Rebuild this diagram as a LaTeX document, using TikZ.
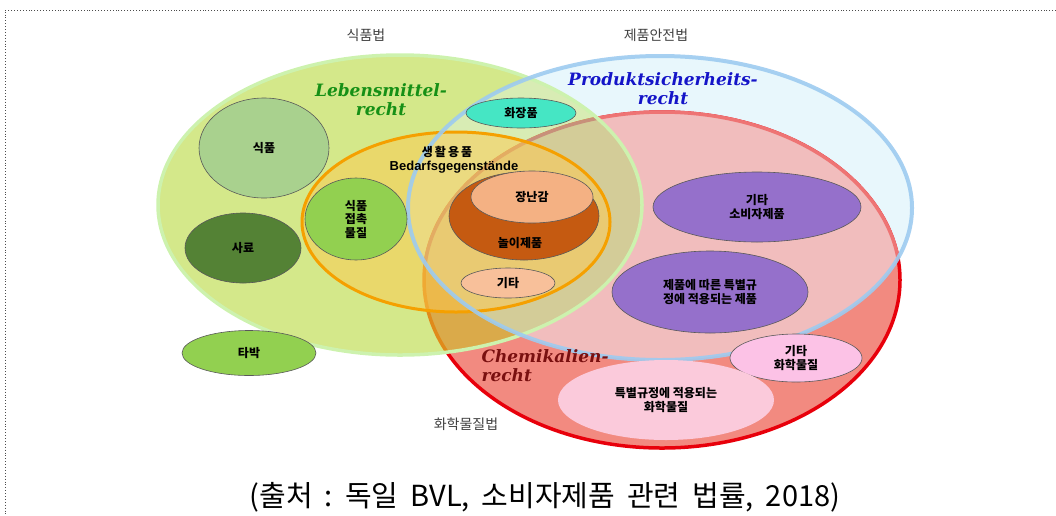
\documentclass[tikz,border=0pt]{standalone}
\usepackage{fontspec}
\usetikzlibrary{shapes.geometric}
\newfontfamily\kr{Noto Sans CJK KR}
\newfontfamily\de{DejaVu Serif}
\newfontfamily\ar{Liberation Sans}
\newcommand\capsp{\hspace{12pt}}
\definecolor{redfill}{HTML}{F28A80}
\definecolor{redline}{HTML}{E8000B}
\definecolor{redlinein}{HTML}{EE7474}
\definecolor{redlinegr}{HTML}{E08A1A}
\definecolor{redlinegb}{HTML}{C8907A}
\definecolor{bluefill}{HTML}{E8F7FC}
\definecolor{blueline}{HTML}{9DCBF0}
\definecolor{pinkin}{HTML}{F1BDBD}
\definecolor{greenfill}{HTML}{D4E88A}
\definecolor{greenblue}{HTML}{D8ECB4}
\definecolor{goldc}{HTML}{DAAA4A}
\definecolor{khakic}{HTML}{D3CC98}
\definecolor{greenline}{HTML}{CDF2AE}
\definecolor{orangefill}{HTML}{FFC94D}
\definecolor{orangeline}{HTML}{F5A000}
\definecolor{foodc}{HTML}{A9D18E}
\definecolor{feedc}{HTML}{548235}
\definecolor{contactc}{HTML}{92D050}
\definecolor{cosmc}{HTML}{45E6C4}
\definecolor{playc}{HTML}{C55A11}
\definecolor{toyc}{HTML}{F4B183}
\definecolor{otherc}{HTML}{F8C09A}
\definecolor{purplec}{HTML}{9570CB}
\definecolor{pinkc}{HTML}{FCC2E6}
\definecolor{pinkc2}{HTML}{FBCADB}
\definecolor{lmgreen}{HTML}{169016}
\definecolor{psblue}{HTML}{1414C8}
\definecolor{chred}{HTML}{7A1010}
\tikzset{
  blueE/.style={insert path={(660,208) ellipse [x radius=252pt, y radius=152pt]}},
  redE/.style={insert path={(662,280) ellipse [x radius=238pt, y radius=168pt]}},
  greenE/.style={insert path={(400,205) ellipse [x radius=242pt, y radius=150pt]}},
  orangeE/.style={insert path={(456,222) ellipse [x radius=154pt, y radius=90pt]}},
  inner/.style={ellipse, draw=black!65, line width=0.6pt, inner sep=0pt, align=center,
    font=\kr\bfseries\fontsize{12}{13.5}\selectfont},
  lawlabel/.style={font=\kr\fontsize{14}{16}\selectfont, text=black!75},
  german/.style={font=\de\bfseries\itshape\fontsize{17}{19}\selectfont, align=center}
}
\begin{document}
\begin{tikzpicture}[x=1pt,y=-1pt]
\useasboundingbox (0,0) rectangle (1056,515);
% frame
\draw[dotted, black!70, line width=0.9pt] (1056,10) -- (5,10) -- (5,515);
% blue fill
\fill[bluefill, blueE];
% red ellipse
\fill[redfill, redE];
\draw[redline, line width=3.5pt, redE];
\begin{scope}
  \clip[blueE];
  \fill[pinkin, redE];
  \draw[redlinein, line width=3.5pt, redE];
\end{scope}
% green ellipse
\fill[greenfill, greenE];
\begin{scope}
  \clip[greenE];
  \fill[greenblue, blueE];
  \fill[goldc, redE];
  \draw[redlinegr, line width=3.5pt, redE];
  \clip[blueE];
  \fill[khakic, redE];
  \draw[redlinegb, line width=3.5pt, redE];
\end{scope}
\draw[greenline, line width=3.5pt, greenE];
% orange circle
\fill[orangefill, opacity=0.5, orangeE];
\draw[orangeline, line width=3pt, orangeE];
% blue outline on top
\draw[blueline, line width=4pt, opacity=0.9, blueE];

% inner shapes
\node[inner, fill=foodc, minimum width=130pt, minimum height=100pt] (food) at (264,148) {식품};
\node[inner, fill=feedc, minimum width=116pt, minimum height=70pt] (feed) at (243,248) {사료};
\node[inner, fill=contactc, minimum width=102pt, minimum height=82pt] (contact) at (356,219) {식품\\접촉\\물질};
\node[inner, fill=contactc, minimum width=134pt, minimum height=45pt] (tobacco) at (249,353) {타박};
\node[inner, fill=cosmc, minimum width=110pt, minimum height=30pt] (cosm) at (521,113) {화장품};
\node[inner, fill=playc, minimum width=150pt, minimum height=88pt] (play) at (524,216) {};
\node[font=\kr\bfseries\fontsize{12}{13.5}\selectfont] (playtxt) at (520,243) {놀이제품};
\node[inner, fill=toyc, minimum width=122pt, minimum height=52pt] (toy) at (532,197) {장난감};
\node[inner, fill=otherc, minimum width=94pt, minimum height=30pt] (other) at (508,283) {기타};
\node[inner, fill=purplec, minimum width=208pt, minimum height=70pt] (consumer) at (757,207) {기타\\소비자제품};
\node[inner, fill=purplec, minimum width=196pt, minimum height=82pt] (special) at (710,292) {제품에 따른 특별규\\정에 적용되는 제품};
\node[inner, fill=pinkc, minimum width=132pt, minimum height=48pt] (chemother) at (796,358) {기타\\화학물질};
\node[inner, draw=none, fill=pinkc2, minimum width=216pt, minimum height=80pt] (chemspecial) at (666,400) {특별규정에 적용되는\\화학물질};

% labels
\node[font=\kr\bfseries\fontsize{12}{13.5}\selectfont] (daily) at (447,152) {생\,활\,용\,품};
\node[font=\ar\bfseries\fontsize{13}{15}\selectfont] (bedarf) at (454,167) {Bedarfsgegenstände};
\node[german, text=lmgreen] (lm) at (381,100) {Lebensmittel-\\recht};
\node[german, text=psblue] (ps) at (663,89) {Produktsicherheits-\\recht};
\node[german, text=chred, align=left, anchor=west] (ch) at (478,366) {Chemikalien-\\recht};
\node[lawlabel] (foodlaw) at (366,35) {식품법};
\node[lawlabel] (prodlaw) at (656,35) {제품안전법};
\node[lawlabel] (chemlaw) at (466,424) {화학물질법};
\node[font=\kr\fontsize{29}{32}\selectfont] (cap) at (545,497) {(출처\capsp{}:\capsp{}독일\capsp{}BVL,\capsp{}소비자제품\capsp{}관련\capsp{}법률,\capsp{}2018)};
\end{tikzpicture}
\end{document}
